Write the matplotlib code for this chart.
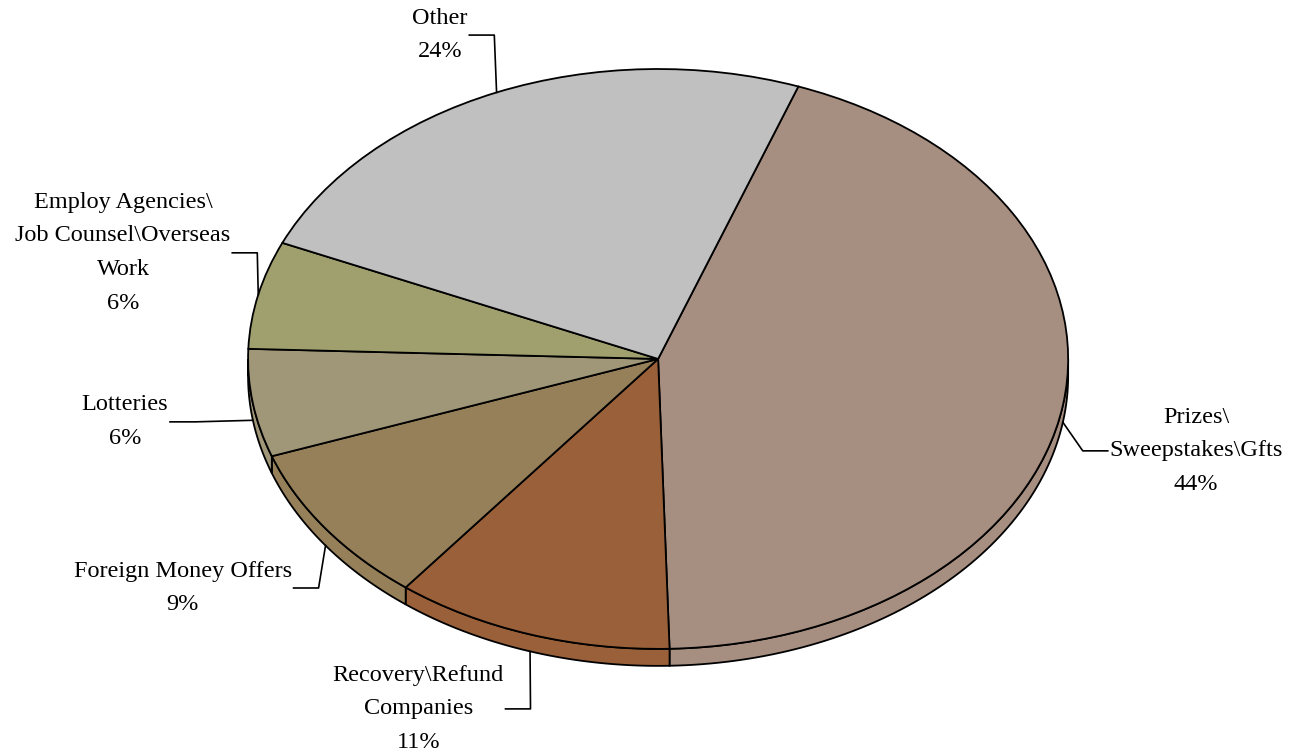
import matplotlib.pyplot as plt
import numpy as np

categories = ['Prizes\\\nSweepstakes\\Gfts', 'Recovery\\Refund\nCompanies',
              'Foreign Money Offers', 'Lotteries',
              'Employ Agencies\\\nJob Counsel\\Overseas\nWork', 'Other']
shares = [44, 11, 9, 6, 6, 24]
colors = ['#a68e80', '#996039', '#96805a', '#a09678', '#a0a06e', '#c0c0c0']

# label centres in pie units (radius 1), placed beside each slice
label_pos = [(1.312, -0.317), (-0.585, -1.207), (-1.159, -0.790),
             (-1.300, -0.217), (-1.305, 0.366), (-0.532, 1.117)]

depth = 0.0586   # thickness of the pie rim
font = 'Liberation Serif'

fig = plt.figure(figsize=(12.99, 7.55), dpi=100)
ax = fig.add_axes([0, 0, 1, 1])

wedges, _ = ax.pie(shares, colors=colors, startangle=70, counterclock=False,
                   radius=1, wedgeprops=dict(edgecolor='black', linewidth=1.3, zorder=2))
ax.set_aspect('auto')
ax.set_xlim(-1.605, 1.563)
ax.set_ylim(-1.366, 1.238)
ax.axis('off')

# rim of the tilted pie: only the front half shows
for w, c in zip(wedges, colors):
    for k in (-1, 0, 1):
        a = max(w.theta1, 180 + 360 * k)
        b = min(w.theta2, 360 + 360 * k)
        if b <= a:
            continue
        t = np.radians(np.linspace(a, b, 80))
        xs = np.concatenate([np.cos(t), np.cos(t[::-1])])
        ys = np.concatenate([np.sin(t), np.sin(t[::-1]) - depth])
        ax.fill(xs, ys, facecolor=c, edgecolor='black', linewidth=1.3, zorder=1)

texts = []
for name, v, (lx, ly) in zip(categories, shares, label_pos):
    t = ax.text(lx, ly, f'{name}\n{v:.0f}%', ha='center', va='center',
                fontsize=17.5, family=font, linespacing=1.8, zorder=5)
    texts.append(t)

fig.canvas.draw()
r = fig.canvas.get_renderer()
inv = ax.transData.inverted()
gap = 25 / 410
for w, t, (lx, ly) in zip(wedges, texts, label_pos):
    mid = np.radians((w.theta1 + w.theta2) / 2)
    ax_x, ax_y = np.cos(mid), np.sin(mid)
    if ax_y < 0:
        ax_y -= depth
    bb = t.get_window_extent(r).transformed(inv)
    if lx > ax_x:
        edge = bb.x0 - 0.004
        elbow = edge - gap
    else:
        edge = bb.x1 + 0.004
        elbow = edge + gap
    ax.plot([ax_x, elbow, edge], [ax_y, ly, ly], color='black', linewidth=1.2, zorder=4)

plt.savefig('out.png', dpi=100)
plt.close()
